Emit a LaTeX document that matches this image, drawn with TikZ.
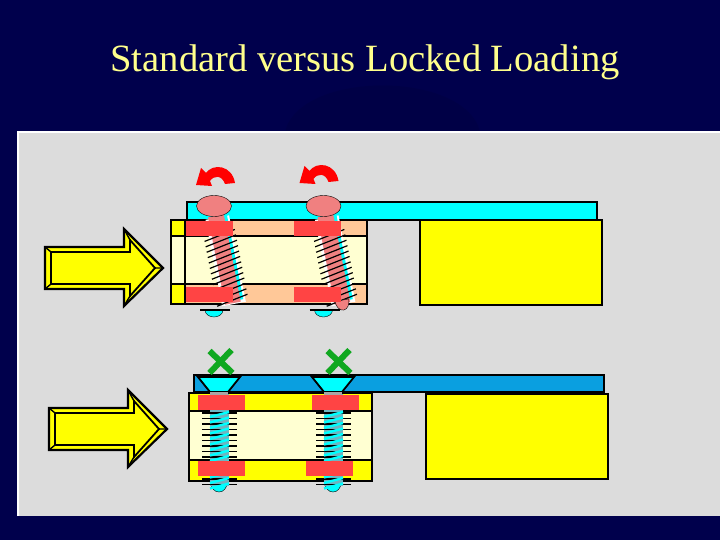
\documentclass[tikz,border=0pt]{standalone}
\usepackage{fontspec}
\setmainfont{Liberation Serif}
\definecolor{navy}{HTML}{00004C}
\definecolor{emblem}{HTML}{000046}
\definecolor{panel}{HTML}{DCDCDC}
\definecolor{plateA}{HTML}{00FFFF}
\definecolor{plateB}{HTML}{0A9FE0}
\definecolor{peach}{HTML}{FFC898}
\definecolor{cream}{HTML}{FFFFD2}
\definecolor{slab}{HTML}{FFFF00}
\definecolor{block}{HTML}{FF4444}
\definecolor{pinkish}{HTML}{F08080}
\definecolor{headyellow}{HTML}{FFFF8C}
\definecolor{marker}{HTML}{10A820}
\definecolor{core}{HTML}{6FB4C0}
\begin{document}
\begin{tikzpicture}[
  x=1pt, y=-1pt,
  outline/.style={draw=black, line width=1.8pt},
  thin line/.style={draw=black, line width=1.4pt},
  redblock/.style={fill=block, draw=none},
  thread/.style={black, line width=1.2pt},
  turn/.style={fill=red, draw=none},
  cross/.style={marker, line width=6pt}
  ]
  \useasboundingbox (0,0) rectangle (720,540);
  \fill[navy] (0,0) rectangle (720,540);
  \fill[emblem] (285,132) .. controls (300,70) and (465,70) .. (480,132) -- cycle;
  \node[text=headyellow, font=\fontsize{38.6}{38.6}\selectfont] (title) at (365,62) {Standard versus Locked Loading};
  \fill[panel] (18,132) rectangle (720,516);
  \draw[white, line width=1.5pt] (18,516) -- (18,132) -- (720,132);

  \foreach \ax/\ay in {0/0, 4/161} {
    \begin{scope}[shift={(\ax,\ay)}]
      \draw[fill=slab, outline, line width=2.2pt] (45,247) -- (124,247) -- (124,229) -- (163,268) -- (124,306) -- (124,289) -- (45,289) -- cycle;
      \draw[fill=slab, thin line, line width=1.8pt] (51,252) -- (130,252) -- (130,240) -- (155,268) -- (130,296) -- (130,284) -- (51,284) -- cycle;
      \draw[thin line] (45,247) -- (51,252) (45,289) -- (51,284) (163,268) -- (155,268) (124,229) -- (130,240) (124,306) -- (130,296);
    \end{scope}
  }

  % standard loading
  \draw[fill=plateA, outline] (187,202) rectangle (597,220);
  \fill[cream] (171,220) rectangle (367,304);
  \fill[peach] (185,220) rectangle (367,236) (185,284) rectangle (367,304);
  \fill[slab] (171,220) rectangle (185,236) (171,284) rectangle (185,304);
  \draw[outline] (171,220) rectangle (367,304);
  \draw[thin line] (171,236) -- (367,236) (171,284) -- (367,284) (185,220) -- (185,304);
  \draw[fill=slab, outline] (420,220) rectangle (602,305);

  \foreach \sx/\tip in {214/0, 323.5/1} {
    \fill[plateA, draw=black] (\sx-9,310) -- (\sx+9,310) arc (0:-180:9 and -7) -- cycle;
    \draw[thread] (\sx-14,310) -- (\sx+16,310);
    \begin{scope}[shift={(\sx,206)}, rotate=11]
      \fill[white] (-11,12) rectangle (13,100);
      \fill[plateA] (7,10) rectangle (11,97);
      \fill[pinkish] (-8,10) rectangle (8,99);
      \foreach \ty in {31,36.5,...,100}
        \draw[thread] (-16,\ty+2) -- (16,\ty-4);
      \ifnum\tip=1
        \fill[pinkish, draw=black] (-7,96) -- (7,96) arc (0:-180:7 and -10) -- cycle;
      \fi
    \end{scope}
    \draw[fill=pinkish, draw=black] (\sx,206) ellipse (17.5 and 10.5);
  }
  \foreach \bx in {186,294} {
    \fill[redblock] (\bx,221) rectangle (\bx+47,236);
    \fill[redblock] (\bx,287) rectangle (\bx+47,302);
  }
  \foreach \rx/\ry in {0/0, 103.5/-2} {
    \fill[turn, shift={(\rx,\ry)}] (201,168) -- (206,173) .. controls (213,163) and (232,165) .. (235,183)
      -- (225,184) .. controls (222,175) and (214,175) .. (210,181) -- (212,186) -- (196,185) -- cycle;
  }

  % locked loading
  \draw[fill=plateB, outline] (194,375) rectangle (604,392);
  \fill[slab] (189,393) rectangle (372,481);
  \fill[cream] (189,411) rectangle (372,460);
  \draw[outline] (189,393) rectangle (372,481);
  \draw[thin line] (189,411) -- (372,411) (189,460) -- (372,460);
  \draw[fill=slab, outline] (426,394) rectangle (608,479);

  \foreach \sx in {219,333} {
    \draw[fill=plateA, draw=black] (\sx-8,483) -- (\sx+8,483) arc (0:-180:8 and -9) -- cycle;
    \fill[core] (\sx-9,394) rectangle (\sx+10,486);
    \foreach \ty in {413,418.5,...,488}
      \draw[thread] (\sx-17,\ty) -- (\sx+18,\ty);
    \foreach \ty in {415,420.5,...,488}
      \draw[plateA, line width=2.4pt] (\sx-9,\ty+2) -- (\sx+10,\ty-3);
    \draw[fill=plateA, outline] (\sx-21,377) -- (\sx+21,377) -- (\sx+9,392) -- (\sx-9,392) -- cycle;
    \fill[gray!70] (\sx-9,392) rectangle (\sx+9,395);
  }
  \foreach \bx/\cx in {198/198, 312/306} {
    \fill[redblock] (\bx,395) rectangle (\bx+47,410);
    \fill[redblock] (\cx,461) rectangle (\cx+47,476);
  }
  \foreach \mx in {220.5,338.5} {
    \draw[cross] (\mx-11,351) -- (\mx+12,373);
    \draw[cross] (\mx+11,350) -- (\mx-11,373);
  }
\end{tikzpicture}
\end{document}
